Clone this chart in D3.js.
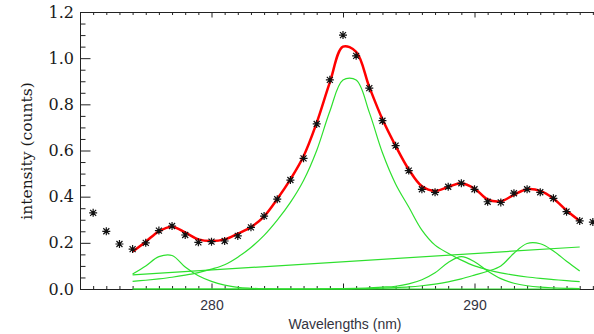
<!DOCTYPE html>
<html>
<head>
<meta charset="utf-8">
<title>Spectrum fit</title>
<style>
  body { margin: 0; background: #fff; }
  svg { display: block; }
  .ylab text { font-family: "DejaVu Serif", serif; font-size: 16px; fill: #1a1a1a; }
  .xlab text { font-family: "Liberation Sans", Arial, sans-serif; font-size: 14px; fill: #333340; }
</style>
</head>
<body>
<svg width="594" height="334"></svg>
<script src="https://d3js.org/d3.v7.min.js"></script>
<script>
// measured points (asterisks)
const obsWave = [275.5, 276, 276.5, 277, 277.5, 278, 278.5, 279, 279.5, 280,
  280.5, 281, 281.5, 282, 282.5, 283, 283.5, 284, 284.5, 285,
  285.5, 286, 286.5, 287, 287.5, 288, 288.5, 289, 289.5, 290,
  290.5, 291, 291.5, 292, 292.5, 293, 293.5, 294, 294.5];
const obsCounts = [0.33, 0.25, 0.195, 0.173, 0.20, 0.253, 0.273, 0.234, 0.202, 0.205,
  0.208, 0.23, 0.267, 0.316, 0.389, 0.472, 0.566, 0.715, 0.906, 1.10,
  1.01, 0.87, 0.729, 0.621, 0.513, 0.432, 0.419, 0.443, 0.458, 0.432,
  0.378, 0.375, 0.415, 0.432, 0.419, 0.393, 0.335, 0.295, 0.29];

// fit grid
const fitWave = [277, 277.5, 278, 278.5, 279, 279.5, 280, 280.5, 281, 281.5,
  282, 282.5, 283, 283.5, 284, 284.5, 285, 285.5, 286, 286.5,
  287, 287.5, 288, 288.5, 289, 289.5, 290, 290.5, 291, 291.5,
  292, 292.5, 293, 293.5, 294];
// total fit (red)
const fitTotal = [0.162, 0.205, 0.25, 0.27, 0.245, 0.215, 0.208, 0.215, 0.24, 0.268,
  0.315, 0.39, 0.475, 0.575, 0.72, 0.895, 1.05, 1.027, 0.875, 0.735,
  0.62, 0.518, 0.445, 0.425, 0.442, 0.458, 0.435, 0.388, 0.38, 0.408,
  0.432, 0.425, 0.392, 0.34, 0.295];
// single components (green)
const peak1 = [0.065, 0.10, 0.14, 0.145, 0.095, 0.057, 0.033, 0.017, 0.007, 0.003,
  0.001, 0, 0, 0, 0, 0, 0, 0, 0, 0,
  0, 0, 0, 0, 0, 0, 0, 0, 0, 0,
  0, 0, 0, 0, 0];
const peak2 = [0.033, 0.038, 0.044, 0.051, 0.06, 0.071, 0.086, 0.105, 0.138, 0.18,
  0.232, 0.298, 0.375, 0.47, 0.6, 0.77, 0.905, 0.905, 0.765, 0.59,
  0.455, 0.355, 0.255, 0.19, 0.155, 0.125, 0.1, 0.083, 0.07, 0.06,
  0.052, 0.046, 0.041, 0.036, 0.032];
const peak3 = [0, 0, 0, 0, 0, 0, 0, 0, 0, 0,
  0, 0, 0, 0, 0, 0.001, 0.002, 0.003, 0.005, 0.008,
  0.012, 0.022, 0.04, 0.07, 0.115, 0.14, 0.118, 0.078, 0.045, 0.025,
  0.014, 0.008, 0.005, 0.003, 0.002];
const peak4 = [0, 0, 0, 0, 0, 0, 0, 0, 0, 0,
  0, 0, 0, 0, 0, 0, 0, 0.001, 0.002, 0.004,
  0.006, 0.009, 0.014, 0.021, 0.031, 0.044, 0.06, 0.077, 0.1, 0.155,
  0.197, 0.196, 0.165, 0.12, 0.078];
// linear background
const baseWave = [277, 294];
const baseLevel = [0.061, 0.182];

// axis ticks
const xMajor = [275, 280, 285, 290, 295];
const xLabelled = [280, 290];
const yMajor = [0, 0.2, 0.4, 0.6, 0.8, 1.0, 1.2];

const svg = d3.select('svg');
const margin = { left: 80, top: 12, bottom: 289, right: 606 };

const x = d3.scaleLinear().domain([275, 295]).range([margin.left, margin.right]);
const y = d3.scaleLinear().domain([0, 1.2]).range([margin.bottom, margin.top]);

const xMinor = d3.range(275, 295.01, 0.5).filter(v => !xMajor.includes(v));
const yMinor = d3.range(0, 1.201, 0.05).filter(v => !yMajor.some(m => Math.abs(m - v) < 1e-6));

// axes (ticks inward)
const ga = svg.append('g').attr('stroke-width', 1);
ga.append('g').attr('transform', `translate(0,${margin.bottom})`).attr('class', 'xlab')
  .call(d3.axisBottom(x).tickValues(xMajor).tickSize(-5.5).tickPadding(11)
    .tickFormat(d => xLabelled.includes(d) ? d3.format('d')(d) : ''))
  .call(g => g.selectAll('text').attr('font-family', null).attr('font-size', null).attr('fill', null));
ga.append('g').attr('transform', `translate(0,${margin.bottom})`)
  .call(d3.axisBottom(x).tickValues(xMinor).tickSize(-3).tickFormat(''))
  .call(g => g.select('.domain').remove());
ga.append('g').attr('transform', `translate(0,${margin.top})`)
  .call(d3.axisTop(x).tickValues(xMajor).tickSize(-5.5).tickFormat(''));
ga.append('g').attr('transform', `translate(0,${margin.top})`)
  .call(d3.axisTop(x).tickValues(xMinor).tickSize(-3).tickFormat(''))
  .call(g => g.select('.domain').remove());
ga.append('g').attr('transform', `translate(${margin.left},0)`).attr('class', 'ylab')
  .call(d3.axisLeft(y).tickValues(yMajor).tickSize(-10.5).tickPadding(6).tickFormat(d3.format('.1f')))
  .call(g => g.selectAll('text').attr('font-family', null).attr('font-size', null).attr('fill', null));
ga.append('g').attr('transform', `translate(${margin.left},0)`)
  .call(d3.axisLeft(y).tickValues(yMinor).tickSize(-5.5).tickFormat(''))
  .call(g => g.select('.domain').remove());
ga.selectAll('.domain, .tick line').attr('stroke', '#222');

// axis titles
svg.append('text')
  .attr('transform', 'translate(32,151) rotate(-90)')
  .attr('text-anchor', 'middle')
  .attr('font-family', 'DejaVu Serif, serif')
  .attr('font-size', 15.5)
  .attr('fill', '#1a1a1a')
  .text('intensity (counts)');
svg.append('text')
  .attr('x', 345).attr('y', 329)
  .attr('text-anchor', 'middle')
  .attr('font-family', 'Liberation Sans, Arial, sans-serif')
  .attr('font-size', 14)
  .attr('fill', '#333340')
  .text('Wavelengths (nm)');

// fit components
const line = d3.line().x(d => x(d[0])).y(d => y(d[1])).curve(d3.curveCatmullRom.alpha(0.5));
const green = '#2ee02e';
[peak1, peak2, peak3, peak4].forEach(p => {
  svg.append('path')
    .datum(fitWave.map((w, i) => [w, p[i]]))
    .attr('d', line)
    .attr('fill', 'none')
    .attr('stroke', green)
    .attr('stroke-width', 1.2);
});
svg.append('path')
  .datum(baseWave.map((w, i) => [w, baseLevel[i]]))
  .attr('d', d3.line().x(d => x(d[0])).y(d => y(d[1])))
  .attr('fill', 'none')
  .attr('stroke', green)
  .attr('stroke-width', 1.2);

svg.append('path')
  .datum(fitWave.map((w, i) => [w, fitTotal[i]]))
  .attr('d', line)
  .attr('fill', 'none')
  .attr('stroke', '#ff0000')
  .attr('stroke-width', 2.5);

// asterisks
const r = 4, rd = 3;
const star = `M0,${-r}V${r}M${-r},0H${r}M${-rd},${-rd}L${rd},${rd}M${-rd},${rd}L${rd},${-rd}`;
svg.append('g').selectAll('path')
  .data(obsWave.map((w, i) => [w, obsCounts[i]]))
  .join('path')
  .attr('transform', d => `translate(${x(d[0])},${y(d[1])})`)
  .attr('d', star)
  .attr('stroke', '#111')
  .attr('stroke-width', 1.2)
  .attr('fill', 'none');
</script>
</body>
</html>
